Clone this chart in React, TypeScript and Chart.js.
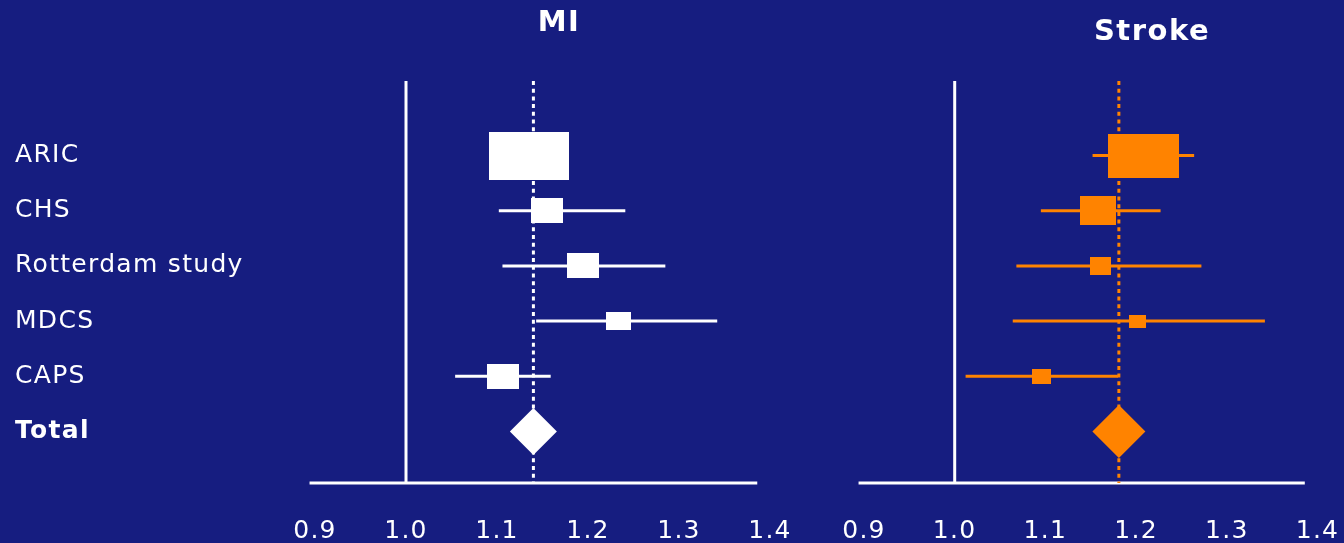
import React, { useEffect, useRef } from 'react';
import { Chart, registerables } from 'chart.js';

Chart.register(...registerables);

// ---------- data ----------
const studyNames = ['ARIC', 'CHS', 'Rotterdam study', 'MDCS', 'CAPS'];
const totalName = 'Total';
const rowLabels = [...studyNames, totalName];
const xTickValues = [0.9, 1.0, 1.1, 1.2, 1.3, 1.4];

const miEstimate = [1.135, 1.155, 1.195, 1.234, 1.107];
const miLower = [1.115, 1.102, 1.106, 1.143, 1.054];
const miUpper = [1.158, 1.241, 1.285, 1.342, 1.159];
const miTotal = 1.14;

const strokeEstimate = [1.208, 1.158, 1.161, 1.201, 1.096];
const strokeLower = [1.152, 1.095, 1.068, 1.064, 1.012];
const strokeUpper = [1.264, 1.227, 1.272, 1.342, 1.18];
const strokeTotal = 1.181;

const nullValue = 1.0;
const xMin = 0.9;
const xMax = 1.4;
const axisFrom = 0.894;
const axisTo = 1.386;
const yMin = -1.35;
const yMax = 5.933;

// ---------- styles ----------
const BG = '#161d80';
const WHITE = '#ffffff';
const ORANGE = '#ff8300';
const FONT = "'DejaVu Sans', Verdana, sans-serif";
const miBoxSizes = [[80, 48], [32, 25], [32, 25], [25, 18], [32, 25]];
const strokeBoxSizes = [[71, 44], [36, 29], [21, 18], [17, 13], [19, 15]];

function buildDatasets(
  est: number[], lo: number[], hi: number[], total: number,
  color: string, boxSizes: number[][], diamondR: number
) {
  const boxes = boxSizes.map(([w, h]) => {
    const c = document.createElement('canvas');
    c.width = w;
    c.height = h;
    const g = c.getContext('2d')!;
    g.fillStyle = color;
    g.fillRect(0, 0, w, h);
    return c;
  });
  const line = (data: any[], extra: any = {}) => ({
    data, showLine: true, borderColor: color, borderWidth: 3, pointRadius: 0, ...extra,
  });
  return [
    {
      label: 'boxes',
      data: est.map((x, i) => ({ x, y: i })),
      pointStyle: (c: any) => boxes[c.dataIndex],
      pointRadius: 6,
      showLine: false,
      backgroundColor: color,
      borderWidth: 0,
    },
    {
      label: 'total',
      data: [{ x: total, y: studyNames.length }],
      pointStyle: 'rectRot',
      pointRadius: diamondR,
      showLine: false,
      backgroundColor: color,
      borderWidth: 0,
    },
    ...est.map((_, i) => ({ label: 'ci' + i, ...line([{ x: lo[i], y: i }, { x: hi[i], y: i }]) })),
    { label: 'pooled', ...line([{ x: total, y: yMin }, { x: total, y: yMax }], { borderDash: [4, 3.7], clip: false }) },
    { label: 'null', ...line([{ x: nullValue, y: yMin }, { x: nullValue, y: yMax }], { borderColor: WHITE, clip: false }) },
    { label: 'axis', ...line([{ x: axisFrom, y: yMax }, { x: axisTo, y: yMax }], { borderColor: WHITE, clip: false }) },
  ];
}

const SPACING = '1.3px';
const spacingPlugin = {
  id: 'spacing',
  beforeLayout(chart: any) { chart.ctx.letterSpacing = SPACING; },
  beforeDraw(chart: any) { chart.ctx.letterSpacing = SPACING; },
};

function titlePlugin(text: string, x: number, y: number) {
  return {
    id: 'panelTitle',
    afterDraw(chart: any) {
      const ctx = chart.ctx;
      ctx.save();
      ctx.letterSpacing = '1.5px';
      ctx.font = `bold 29px ${FONT}`;
      ctx.fillStyle = WHITE;
      ctx.textAlign = 'center';
      ctx.textBaseline = 'middle';
      ctx.fillText(text, x, y);
      ctx.restore();
    },
  };
}

function makeOptions(showY: boolean, padding: any) {
  return {
    responsive: false,
    animation: false,
    events: [],
    layout: { padding },
    plugins: { legend: { display: false }, tooltip: { enabled: false }, title: { display: false } },
    scales: {
      x: {
        type: 'linear',
        min: xMin,
        max: xMax,
        afterBuildTicks: (s: any) => { s.ticks = xTickValues.map((v) => ({ value: v })); },
        afterFit: (s: any) => { s.height = 60; s.paddingLeft = 0; s.paddingRight = 0; },
        grid: { display: false, drawTicks: true, tickLength: 33 },
        border: { display: false },
        ticks: {
          color: WHITE,
          font: { family: FONT, size: 25 },
          padding: 0,
          maxRotation: 0,
          autoSkip: false,
          callback: (v: any) => Number(v).toFixed(1),
        },
      },
      y: {
        type: 'linear',
        display: showY,
        reverse: true,
        min: yMin,
        max: yMax,
        afterBuildTicks: (s: any) => { s.ticks = rowLabels.map((_, i) => ({ value: i })); },
        afterFit: (s: any) => {
          s.width = showY ? 300 : 0;
          s.paddingTop = 0;
          s.paddingBottom = 0;
        },
        grid: { display: false, drawTicks: false },
        border: { display: false },
        ticks: {
          color: WHITE,
          crossAlign: 'far',
          autoSkip: false,
          font: (c: any) => ({
            family: FONT,
            size: 25,
            weight: c.tick && c.tick.value === rowLabels.length - 1 ? 'bold' : 'normal',
          }),
          callback: (v: any) => rowLabels[v] ?? '',
        },
      },
    },
  };
}

export default function App() {
  const leftRef = useRef<HTMLCanvasElement>(null);
  const rightRef = useRef<HTMLCanvasElement>(null);

  useEffect(() => {
    const c1 = new Chart(leftRef.current!, {
      type: 'scatter',
      data: { datasets: buildDatasets(miEstimate, miLower, miUpper, miTotal, WHITE, miBoxSizes, 23.5) as any },
      options: makeOptions(true, { left: 15, right: 30, top: 81, bottom: 0 }) as any,
      plugins: [spacingPlugin, titlePlugin('MI', 559, 23)],
    });
    const c2 = new Chart(rightRef.current!, {
      type: 'scatter',
      data: { datasets: buildDatasets(strokeEstimate, strokeLower, strokeUpper, strokeTotal, ORANGE, strokeBoxSizes, 26.5) as any },
      options: makeOptions(false, { left: 64, right: 25, top: 81, bottom: 0 }) as any,
      plugins: [spacingPlugin, titlePlugin('Stroke', 352, 32)],
    });
    return () => { c1.destroy(); c2.destroy(); };
  }, []);

  return (
    <div style={{ position: 'fixed', left: 0, top: 0, width: 1344, height: 543, background: BG, overflow: 'hidden' }}>
      <canvas ref={leftRef} width={800} height={543} style={{ position: 'absolute', left: 0, top: 0 }} />
      <canvas ref={rightRef} width={544} height={543} style={{ position: 'absolute', left: 800, top: 0 }} />
    </div>
  );
}
